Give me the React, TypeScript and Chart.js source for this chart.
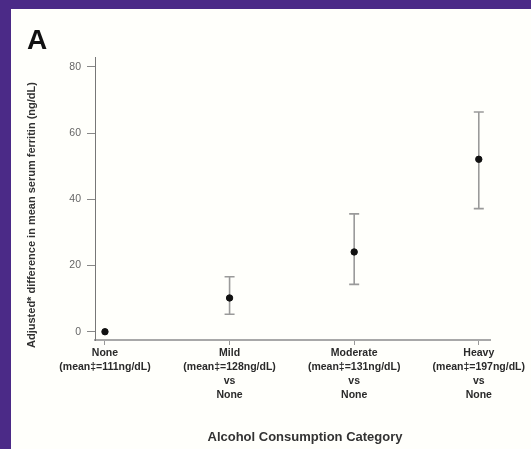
import React, { useEffect, useRef } from "react";
import { Chart, registerables } from "chart.js";

Chart.register(...registerables);

const categories: string[][] = [
  ["None", "(mean‡=111ng/dL)"],
  ["Mild", "(mean‡=128ng/dL)", "vs", "None"],
  ["Moderate", "(mean‡=131ng/dL)", "vs", "None"],
  ["Heavy", "(mean‡=197ng/dL)", "vs", "None"],
];
const means: number[] = [0, 10.2, 24.1, 52.1];
const lowerCI: (number | null)[] = [null, 5.3, 14.3, 37.2];
const upperCI: (number | null)[] = [null, 16.6, 35.6, 66.4];
const yTicks: number[] = [0, 20, 40, 60, 80];

const FONT = "'Liberation Sans', Arial, sans-serif";

export default function App() {
  const ref = useRef<HTMLCanvasElement | null>(null);

  useEffect(() => {
    if (!ref.current) return;
    const errorBars = {
      id: "errorBars",
      beforeDatasetsDraw(chart: any) {
        const { ctx, scales } = chart;
        const xs = scales.x;
        const ys = scales.y;
        ctx.save();
        ctx.strokeStyle = "#9a9a9a";
        ctx.lineWidth = 1.6;
        means.forEach((_, i) => {
          const lo = lowerCI[i];
          const hi = upperCI[i];
          if (lo == null || hi == null) return;
          const x = xs.getPixelForValue(i);
          const y1 = ys.getPixelForValue(lo);
          const y2 = ys.getPixelForValue(hi);
          ctx.beginPath();
          ctx.moveTo(x, y1);
          ctx.lineTo(x, y2);
          ctx.moveTo(x - 5, y1);
          ctx.lineTo(x + 5, y1);
          ctx.moveTo(x - 5, y2);
          ctx.lineTo(x + 5, y2);
          ctx.stroke();
        });
        ctx.restore();
      },
      afterDraw(chart: any) {
        const { ctx } = chart;
        ctx.save();
        ctx.fillStyle = "#111";
        ctx.font = `bold 28px ${FONT}`;
        ctx.textAlign = "left";
        ctx.textBaseline = "alphabetic";
        ctx.fillText("A", 16, 40);
        ctx.fillStyle = "#333";
        ctx.font = `bold 13px ${FONT}`;
        ctx.textAlign = "center";
        ctx.textBaseline = "middle";
        ctx.fillText("Alcohol Consumption Category", 294, 428);
        ctx.translate(21, 206);
        ctx.rotate(-Math.PI / 2);
        ctx.font = `bold 11px ${FONT}`;
        ctx.fillText("Adjusted* difference in mean serum ferritin (ng/dL)", 0, 0);
        ctx.restore();
      },
    };

    const chart = new Chart(ref.current, {
      type: "scatter",
      data: {
        datasets: [
          {
            data: means.map((m, i) => ({ x: i, y: m })),
            backgroundColor: "#111",
            borderColor: "#111",
            pointRadius: 3.2,
            pointHoverRadius: 3.2,
          },
        ],
      },
      options: {
        responsive: false,
        animation: false,
        devicePixelRatio: 1,
        layout: { padding: { top: 48, right: 41, left: 0, bottom: 0 } },
        plugins: { legend: { display: false }, tooltip: { enabled: false } },
        scales: {
          x: {
            type: "linear",
            min: -0.08,
            max: 3.09,
            afterBuildTicks: (s: any) => {
              s.ticks = categories.map((_, i) => ({ value: i }));
            },
            afterFit: (s: any) => {
              s.height = 109;
            },
            ticks: {
              autoSkip: false,
              maxRotation: 0,
              padding: 1,
              color: "#2a2a2a",
              font: { family: FONT, size: 10.5, weight: "bold", lineHeight: 1.34 },
              callback: (v: any) => categories[Number(v)] ?? "",
            },
            grid: { drawOnChartArea: false, drawTicks: true, tickLength: 5, color: "#999" },
            border: { color: "#a8a8a8", width: 2 },
          },
          y: {
            min: -2.5,
            max: 83,
            afterBuildTicks: (s: any) => {
              s.ticks = yTicks.map((v) => ({ value: v }));
            },
            afterFit: (s: any) => {
              s.width = 84;
            },
            ticks: {
              padding: 6,
              color: "#666",
              font: { family: FONT, size: 10.5 },
            },
            grid: { drawOnChartArea: false, drawTicks: true, tickLength: 8, color: "#888" },
            border: { color: "#777", width: 1 },
          },
        },
      },
      plugins: [errorBars],
    });
    return () => chart.destroy();
  }, []);

  return (
    <div
      style={{
        position: "absolute",
        left: 0,
        top: 0,
        width: 531,
        height: 449,
        background: "#4b2a87",
        overflow: "hidden",
      }}
    >
      <div
        style={{
          position: "absolute",
          left: 11,
          top: 9,
          width: 520,
          height: 440,
          background: "#fffffb",
        }}
      >
        <canvas ref={ref} width={520} height={440} style={{ display: "block" }} />
      </div>
    </div>
  );
}
